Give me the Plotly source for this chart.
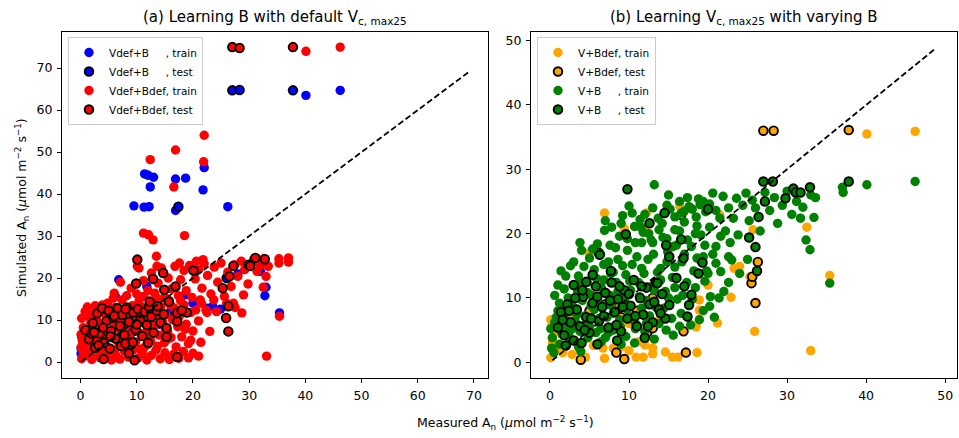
import plotly.graph_objects as go

# ---------------- data (measured, simulated) ----------------
# Panel (a): Learning B with default Vc,max25
vdefb_train = [  # blue, train
    (0.1, 2.0), (0.1, 3.2), (0.2, 6.0), (1.0, 5.0), (1.8, 2.6), (2.5, 4.2), (4.0, 5.5), (3.0, 9.0),
    (5.5, 7.0), (7.5, 6.0), (6.2, 15.6), (6.8, 19.6), (9.8, 7.3), (11.8, 18.0), (18.6, 16.0),
    (22.5, 12.8), (23.5, 13.3), (24.9, 12.6), (32.0, 21.6), (32.8, 15.8), (33.0, 17.8), (35.4, 11.7),
    (9.5, 37.2), (11.3, 36.9), (12.2, 37.0), (16.9, 36.1), (26.2, 37.0), (11.4, 44.8), (12.0, 44.5),
    (13.0, 44.0), (12.4, 41.7), (16.9, 43.6), (18.7, 43.8), (21.8, 41.0), (22.0, 46.3),
    (40.1, 63.5), (46.2, 64.7), (14.0, 9.0), (16.0, 12.0), (20.0, 14.0), (28.0, 21.0),
]
vdefb_test = [  # blue, test
    (27.0, 64.7), (28.3, 64.8), (37.8, 64.7), (17.4, 37.0), (3.0, 8.0), (6.0, 9.5), (9.0, 7.0),
    (12.0, 10.0), (26.0, 20.0), (30.0, 23.0),
]
vdefbdef_train = [  # red, train
    # bottom row
    (0.2, 0.8), (0.5, 2.1), (1.2, 1.5), (2.0, 0.6), (2.8, 2.4), (3.5, 1.0), (4.6, 2.0), (5.5, 0.5),
    (6.2, 1.8), (7.0, 0.7), (7.8, 2.6), (8.5, 1.2), (9.3, 2.9), (10.2, 0.9), (11.0, 2.0), (11.8, 0.5),
    (12.6, 1.6), (13.4, 2.8), (14.2, 0.8), (15.0, 2.2), (15.8, 0.6), (16.6, 1.9), (17.5, 0.9),
    (18.3, 2.5), (19.2, 1.0), (20.0, 2.1), (21.0, 1.4), (33.1, 1.4),
    # left edge
    (0.1, 3.5), (0.3, 5.2), (0.1, 6.6), (0.5, 8.2), (0.2, 10.4), (1.2, 13.1), (0.8, 12.0), (0.4, 4.4),
    # dense cluster
    (1.0, 4.0), (1.5, 6.5), (1.8, 9.5), (2.2, 11.5), (2.5, 3.4), (2.8, 7.8), (3.0, 12.8), (3.3, 5.5),
    (3.6, 9.0), (3.9, 13.6), (4.2, 4.2), (4.4, 7.0), (4.7, 10.8), (5.0, 12.5), (5.3, 3.2), (5.6, 5.8),
    (5.9, 8.6), (6.2, 13.0), (6.5, 11.0), (6.8, 4.5), (7.1, 7.5), (7.4, 14.8), (7.7, 9.8), (8.0, 12.2),
    (8.3, 3.6), (8.6, 6.2), (8.9, 10.5), (9.2, 13.4), (9.5, 8.0), (9.8, 4.8), (10.1, 11.8), (10.4, 14.5),
    (10.7, 6.8), (11.0, 9.4), (11.3, 3.4), (11.6, 12.8), (11.9, 7.6), (12.2, 10.2), (12.5, 5.0),
    (12.8, 14.0), (13.1, 8.8), (13.4, 11.6), (13.7, 3.8), (14.0, 6.4), (14.3, 13.2), (14.6, 9.6),
    (14.9, 4.6), (15.2, 11.2), (15.5, 7.2), (15.8, 14.6), (16.1, 5.8), (16.4, 10.0), (16.7, 12.8),
    (17.0, 3.6), (17.3, 8.4), (17.6, 11.0), (18.0, 6.0), (18.4, 13.6), (18.8, 9.0), (19.2, 4.4),
    (19.6, 11.8), (20.0, 7.4), (20.5, 12.4), (21.0, 9.8), (21.5, 14.0), (22.3, 12.4), (23.0, 7.3),
    (21.4, 4.7), (19.6, 5.2), (2.0, 2.8), (3.0, 9.8), (4.0, 11.8), (5.0, 6.8), (6.0, 2.8), (7.0, 12.0),
    (8.0, 8.4), (9.0, 5.2), (10.0, 7.6), (11.0, 13.0), (12.0, 4.2), (13.0, 12.4), (14.0, 10.8),
    (15.0, 8.2), (16.0, 13.6), (2.4, 5.0), (3.6, 3.0), (4.8, 14.0), (6.6, 9.2), (7.6, 5.4), (9.4, 11.6),
    (10.6, 3.0), (12.4, 6.4), (13.8, 15.0), (15.4, 5.4), (17.8, 14.6), (18.6, 7.8), (1.4, 11.0),
    (2.6, 13.4), (5.8, 15.2),
    # middle band
    (6.0, 16.4), (7.1, 19.0), (8.2, 15.8), (9.0, 17.6), (10.0, 16.2), (10.1, 22.8), (10.4, 22.4),
    (11.2, 19.4), (11.2, 15.6), (12.0, 17.0), (12.6, 21.2), (13.2, 16.4), (13.5, 25.2), (13.6, 22.8),
    (13.8, 18.8), (14.4, 22.4), (15.0, 15.4), (15.6, 20.0), (16.2, 17.4), (16.8, 22.8), (17.4, 15.8),
    (17.8, 19.6), (17.6, 23.6), (18.4, 21.8), (18.8, 17.0), (19.4, 23.0), (19.8, 15.4), (20.4, 19.8),
    (20.6, 24.0), (21.0, 22.0), (21.6, 17.6), (21.8, 24.4), (22.0, 23.4), (22.6, 20.6), (23.2, 16.2),
    (23.8, 22.6), (24.4, 19.0), (25.0, 23.6), (25.6, 15.6), (26.2, 21.4), (26.8, 18.0), (27.4, 23.2),
    (28.0, 20.4), (28.6, 24.0), (29.2, 22.0), (29.8, 18.6), (30.4, 23.4), (30.8, 24.4), (31.4, 21.6),
    (32.0, 23.0), (32.6, 24.6), (33.0, 20.4), (32.5, 17.8), (33.4, 22.8), (35.3, 24.6), (35.3, 23.6),
    (37.0, 24.8), (37.0, 23.8), (35.4, 10.9), (24.2, 12.0), (26.0, 14.0), (27.5, 13.0), (29.0, 16.0),
    (21.3, 14.8), (23.7, 14.8), (22.5, 11.8), (27.2, 14.0), (28.7, 11.7),
    # upper outliers
    (11.2, 30.7), (12.1, 30.3), (12.9, 29.1), (18.5, 30.1), (12.4, 48.2), (16.9, 50.5), (22.0, 54.0),
    (21.9, 47.7), (16.6, 41.7), (40.1, 74.0), (46.2, 75.0),
]
vdefbdef_test = [  # red, test
    (0.9, 7.6), (1.5, 5.4), (2.2, 9.3), (2.6, 3.4), (3.0, 11.6), (3.4, 6.8), (3.8, 12.8), (4.2, 4.6),
    (4.6, 9.8), (5.0, 12.2), (5.4, 7.4), (5.8, 10.6), (6.2, 5.6), (6.6, 12.8), (7.0, 8.6), (7.4, 11.2),
    (7.8, 6.4), (8.2, 13.0), (8.6, 9.6), (9.0, 4.2), (9.4, 11.8), (9.8, 7.8), (10.2, 12.6), (10.6, 10.0),
    (11.0, 6.2), (11.4, 12.0), (11.8, 8.8), (12.2, 13.2), (12.6, 10.8), (13.0, 7.0), (13.6, 12.2),
    (14.2, 9.4), (14.8, 11.4), (5.2, 3.2), (7.2, 3.8), (2.0, 6.8), (4.0, 8.2), (6.0, 11.0), (8.0, 12.6),
    (10.0, 9.0), (3.2, 4.0), (12.0, 4.6), (2.4, 7.1), (5.3, 6.1), (8.0, 4.4), (9.3, 4.7),
    (4.1, 0.7), (9.6, 0.4), (17.2, 1.2), (8.6, 2.1), (15.3, 6.0), (15.3, 8.1), (17.2, 9.7), (17.2, 11.7),
    (18.9, 11.8), (18.0, 12.3), (15.7, 14.4), (13.7, 13.3), (12.3, 14.4), (10.1, 24.4), (9.9, 18.7),
    (12.9, 19.8), (14.7, 21.2), (14.9, 17.2), (16.9, 18.0), (20.1, 21.8), (26.5, 20.4), (27.2, 22.9),
    (25.3, 17.6), (29.9, 23.2), (31.1, 24.8), (32.8, 24.5), (30.2, 22.9), (26.3, 13.3), (25.9, 10.5),
    (26.3, 7.3), (27.0, 75.0), (28.3, 74.8), (37.8, 75.0),
]

# Panel (b): Learning Vc,max25 with varying B
vbdef_train = [  # orange, train
    (0.1, 0.7), (1.6, 1.5), (2.8, 1.2), (4.5, 0.8), (6.9, 0.6), (8.0, 2.2), (10.0, 1.8), (10.9, 0.8),
    (11.8, 0.8), (13.0, 1.3), (14.6, 1.6), (15.5, 0.8), (16.2, 0.8), (18.6, 1.5), (12.0, 2.7), (9.0, 2.4),
    (5.5, 2.6), (1.2, 2.4), (6.7, 2.2), (11.3, 3.2), (13.0, 2.2),
    (0.1, 6.6), (0.3, 3.0), (0.3, 3.7), (0.6, 4.8), (0.2, 5.6), (1.0, 6.0), (2.0, 5.2), (3.0, 7.0),
    (6.9, 23.2), (12.2, 23.2), (16.4, 24.3), (9.4, 20.8), (12.0, 20.6), (21.5, 22.9), (25.7, 20.6),
    (32.5, 21.0), (33.0, 1.8), (25.9, 4.8), (22.9, 10.1), (21.2, 6.1), (24.0, 14.9), (23.3, 14.6),
    (25.3, 13.3), (35.4, 13.5), (5.0, 17.0), (6.0, 17.5), (18.5, 5.5), (18.9, 6.6), (18.9, 8.1),
    (18.9, 9.7), (14.0, 7.0), (20.0, 12.0), (8.0, 9.0), (10.0, 6.0), (40.1, 35.5), (46.2, 35.9),
]
vbdef_test = [  # orange, test
    (6.2, 17.0), (3.9, 0.4), (8.4, 1.5), (9.4, 0.5), (17.2, 1.5), (16.9, 4.8), (12.3, 4.6), (13.0, 5.3),
    (26.0, 9.2), (25.5, 12.3), (25.6, 13.3), (26.3, 15.6), (16.6, 22.9), (19.1, 15.9), (27.0, 36.0),
    (28.3, 36.0), (37.8, 36.1), (1.5, 5.0), (3.0, 6.0), (5.0, 8.0), (7.0, 9.0), (9.0, 7.0), (11.0, 8.0),
    (13.0, 10.0),
]
vb_train = [  # green, train
    (0.2, 2.2), (0.3, 3.8), (0.1, 5.2), (0.5, 1.5), (0.6, 6.2), (1.0, 8.0), (1.2, 9.2), (1.5, 4.4),
    (1.8, 7.0), (2.0, 5.8), (2.3, 10.0), (2.6, 3.6), (2.9, 8.6), (3.2, 6.4), (3.5, 11.0), (3.8, 4.8),
    (4.1, 9.6), (4.4, 7.2), (4.3, 14.9), (4.7, 12.4), (5.0, 16.2), (5.0, 5.6), (5.3, 10.4), (5.6, 8.2),
    (5.9, 13.0), (6.2, 6.8), (6.5, 11.6), (6.9, 20.5), (6.8, 15.2), (7.1, 9.0), (7.4, 4.6), (7.7, 13.8),
    (8.0, 7.6), (8.3, 17.8), (8.6, 11.0), (8.9, 5.6), (9.2, 15.0), (9.5, 9.4), (9.8, 19.2), (10.0, 24.3),
    (10.1, 12.6), (10.4, 7.0), (10.7, 21.1), (10.7, 3.0), (11.0, 16.4), (11.3, 10.2), (11.6, 18.6),
    (11.9, 13.8), (12.2, 6.0), (12.5, 20.0), (12.8, 11.8), (13.2, 27.6), (13.1, 16.8), (13.4, 8.6),
    (13.7, 22.4), (14.0, 14.6), (14.3, 19.4), (14.7, 5.0), (14.6, 11.0), (14.9, 17.2), (15.2, 23.8),
    (15.5, 13.2), (15.8, 20.6), (16.1, 9.8), (16.4, 25.0), (16.7, 15.6), (17.0, 21.8), (17.3, 12.4),
    (17.6, 24.2), (17.9, 18.0), (18.2, 14.2), (18.5, 22.6), (18.8, 25.4), (18.9, 6.6), (19.1, 19.8),
    (19.4, 16.4), (19.7, 23.4), (20.2, 8.7), (20.3, 10.2), (20.6, 26.3), (20.2, 21.0), (21.0, 18.0),
    (21.5, 22.4), (21.9, 25.8), (22.2, 20.4), (22.6, 16.4), (23.0, 15.9), (23.6, 25.5), (23.8, 19.8),
    (24.0, 13.8), (21.6, 14.1), (24.8, 26.3), (25.2, 22.0), (26.0, 24.0), (26.6, 20.4), (27.2, 26.4),
    (27.8, 23.6), (28.4, 25.6), (28.8, 21.6), (29.4, 24.4), (30.0, 26.6), (30.6, 23.0), (31.2, 25.0),
    (31.7, 22.4), (32.0, 24.1), (32.4, 19.0), (32.9, 17.5), (33.4, 22.5), (33.0, 26.0), (33.6, 25.6),
    (37.0, 27.2), (37.1, 26.4), (35.4, 12.3), (40.1, 27.6), (46.2, 28.1), (3.9, 1.7), (22.0, 11.0),
    (25.0, 16.0), (1.0, 12.0), (2.0, 13.4), (3.0, 15.6), (4.0, 17.4), (6.0, 18.4), (7.0, 22.0),
    (8.0, 14.0), (9.0, 21.6), (12.0, 23.0), (15.0, 26.0), (16.0, 18.2), (18.0, 9.8), (20.0, 13.8),
    (6.5, 3.2), (9.0, 2.8), (11.5, 21.0), (12.8, 19.0), (17.0, 23.5), (19.0, 24.5),
    # extra density in the main cloud
    (1.2, 2.8), (2.4, 4.6), (3.6, 2.4), (4.8, 3.8), (5.8, 4.6), (7.0, 3.8), (8.0, 5.0), (9.6, 4.0),
    (10.8, 5.2), (12.0, 4.8), (13.2, 3.6), (15.6, 4.2), (16.4, 5.6),
    (0.8, 7.0), (1.6, 8.6), (2.8, 5.2), (3.4, 7.4), (4.6, 6.0), (5.2, 8.8), (6.4, 5.2), (7.2, 7.0),
    (7.8, 8.8), (8.8, 6.6), (9.8, 8.2), (10.8, 6.0), (11.6, 8.4), (12.6, 7.2), (13.8, 6.0), (14.4, 8.4),
    (15.4, 6.8), (16.6, 7.6), (17.8, 5.8), (19.4, 8.0), (20.8, 7.0),
    (0.6, 10.4), (1.8, 11.4), (2.6, 9.6), (3.8, 12.6), (4.8, 10.8), (6.0, 9.8), (6.8, 12.8), (7.6, 10.4),
    (8.4, 12.4), (9.2, 10.6), (10.2, 11.2), (11.2, 12.4), (12.2, 9.6), (13.2, 11.2), (14.0, 12.8),
    (15.0, 10.0), (15.8, 11.6), (16.8, 10.4), (18.4, 11.6), (19.6, 12.6), (21.4, 10.0), (22.6, 12.4),
    (1.4, 14.2), (2.6, 15.0), (3.6, 13.4), (5.6, 14.4), (6.4, 16.8), (7.4, 15.6), (8.6, 16.0),
    (9.6, 13.6), (10.4, 15.2), (11.6, 14.6), (12.4, 16.0), (13.6, 14.0), (14.8, 15.6), (15.8, 14.8),
    (17.0, 16.8), (18.6, 16.2), (19.8, 14.2), (21.0, 15.4), (20.6, 16.8),
    (3.8, 18.6), (5.4, 17.6), (7.6, 18.2), (8.8, 19.6), (9.8, 17.4), (10.8, 18.6), (11.8, 20.2),
    (13.0, 18.6), (13.8, 20.6), (14.8, 19.2), (15.6, 18.0), (16.4, 20.4), (17.4, 19.0), (18.4, 20.0),
    (19.6, 18.2), (21.6, 19.6), (22.8, 18.6),
    (7.8, 21.0), (9.2, 22.8), (10.4, 23.2), (11.4, 22.2), (13.0, 24.0), (14.2, 21.6), (14.8, 24.4),
    (15.8, 22.6), (16.6, 23.2), (17.4, 25.6), (18.0, 23.8), (18.6, 21.2), (19.4, 25.0), (20.2, 24.6),
    (21.0, 23.6), (22.6, 24.0), (23.2, 22.4), (24.4, 24.4), (25.6, 25.2),
]
vb_test = [  # green, test
    (1.0, 5.4), (1.4, 7.8), (1.8, 4.2), (2.2, 9.0), (2.6, 6.2), (3.0, 3.4), (3.4, 8.2), (3.8, 5.6),
    (4.2, 10.2), (4.6, 7.0), (5.0, 4.6), (5.4, 9.2), (5.8, 11.8), (6.2, 6.4), (6.6, 8.6), (7.0, 10.8),
    (7.4, 5.4), (7.8, 12.4), (8.2, 7.8), (8.6, 9.8), (9.0, 4.8), (9.4, 11.2), (9.8, 6.8), (10.2, 8.8),
    (10.6, 12.8), (11.0, 5.6), (11.4, 10.0), (11.8, 7.4), (12.2, 11.6), (12.6, 9.0), (13.0, 6.2),
    (13.4, 12.4), (13.8, 8.2), (14.2, 10.6), (14.6, 6.8), (2.0, 2.6), (4.0, 3.0), (6.0, 2.8), (8.5, 3.4),
    (12.0, 3.8), (9.8, 26.9), (14.5, 23.2), (12.6, 21.6), (9.6, 19.9), (16.6, 19.1), (14.7, 18.2),
    (15.1, 16.4), (16.9, 16.2), (19.3, 15.5), (18.8, 13.8), (20.0, 23.8), (26.4, 22.6), (27.2, 25.0),
    (27.0, 28.1), (28.2, 28.1), (29.8, 25.5), (30.8, 27.0), (31.1, 26.4), (31.7, 26.4), (32.9, 27.2),
    (25.2, 19.4), (26.0, 17.9), (26.2, 14.2), (6.3, 16.7), (7.7, 14.2), (5.4, 13.6), (4.6, 12.5),
    (4.1, 11.2), (17.0, 11.8), (17.9, 10.5), (17.6, 8.9), (17.4, 7.1), (16.0, 13.1), (13.6, 12.3),
    (15.1, 8.9), (37.8, 28.1),
    (1.6, 6.6), (2.4, 8.0), (3.2, 10.0), (4.4, 5.0), (5.2, 6.8), (6.0, 10.2), (6.8, 7.2), (7.6, 9.6),
    (8.4, 5.8), (9.2, 8.6), (10.0, 10.6), (10.8, 7.2), (11.6, 11.8), (12.4, 5.6), (13.2, 9.4),
    (14.0, 7.6), (8.8, 11.8), (3.0, 12.0),
]

# 1:1 reference lines
line_a = [0.1, 69.0]
line_b = [0.3, 48.8]

# tick values
ticks_a = [0, 10, 20, 30, 40, 50, 60, 70]
ticks_b = [0, 10, 20, 30, 40, 50]

# ---------------- figure ----------------
FONT = "DejaVu Sans"
fig = go.Figure()


def add(pts, color, name, edge, xa, ya, legend):
    fig.add_trace(go.Scatter(
        x=[p[0] for p in pts], y=[p[1] for p in pts], mode="markers", name=name,
        marker=dict(color=color, size=8.6 if edge else 9.4,
                    line=dict(color="black", width=1.9 if edge else 0)),
        xaxis=xa, yaxis=ya, legend=legend))


sp = "\u00a0" * 5
add(vdefb_train, "#0000ff", "Vdef+B" + sp + ", train", False, "x", "y", "legend")
add(vdefb_test, "#0000ff", "Vdef+B" + sp + ", test", True, "x", "y", "legend")
add(vdefbdef_train, "#ff0000", "Vdef+Bdef, train", False, "x", "y", "legend")
add(vdefbdef_test, "#ff0000", "Vdef+Bdef, test", True, "x", "y", "legend")
fig.add_trace(go.Scatter(x=line_a, y=line_a, mode="lines", showlegend=False,
                         line=dict(color="black", width=1.8, dash="6px,3px"), xaxis="x", yaxis="y"))

add(vbdef_train, "#ffa500", "V+Bdef, train", False, "x2", "y2", "legend2")
add(vbdef_test, "#ffa500", "V+Bdef, test", True, "x2", "y2", "legend2")
add(vb_train, "#008000", "V+B" + sp + ", train", False, "x2", "y2", "legend2")
add(vb_test, "#008000", "V+B" + sp + ", test", True, "x2", "y2", "legend2")
fig.add_trace(go.Scatter(x=line_b, y=line_b, mode="lines", showlegend=False,
                         line=dict(color="black", width=1.8, dash="6px,3px"), xaxis="x2", yaxis="y2"))

W, H = 959, 438
ax = dict(showline=True, linecolor="black", linewidth=1, mirror=True, ticks="outside",
          ticklen=4, tickwidth=1, tickcolor="black", showgrid=False, zeroline=False,
          tickfont=dict(family=FONT, size=12.5, color="black"), ticklabelstandoff=2)
ydom = [1 - 378 / H, 1 - 32 / H]

fig.update_layout(
    width=W, height=H, margin=dict(l=0, r=0, t=0, b=0),
    paper_bgcolor="white", plot_bgcolor="white",
    font=dict(family=FONT, color="black"),
    xaxis=dict(ax, domain=[62 / W, 488 / W], range=[-3.3, 72.5], tickvals=ticks_a, anchor="y"),
    yaxis=dict(ax, domain=ydom, range=[-3.8, 78.6], tickvals=ticks_a, anchor="x"),
    xaxis2=dict(ax, domain=[531 / W, 957 / W], range=[-2.4, 51.5], tickvals=ticks_b, anchor="y2"),
    yaxis2=dict(ax, domain=ydom, range=[-2.45, 51.35], tickvals=ticks_b, anchor="x2"),
    legend=dict(x=68 / W, y=1 - 37 / H, xanchor="left", yanchor="top",
                bgcolor="rgba(255,255,255,0.8)", bordercolor="#cccccc", borderwidth=1,
                font=dict(family=FONT, size=10.5, color="black"), itemwidth=30,
                tracegroupgap=0),
    legend2=dict(x=537 / W, y=1 - 37 / H, xanchor="left", yanchor="top",
                 bgcolor="rgba(255,255,255,0.8)", bordercolor="#cccccc", borderwidth=1,
                 font=dict(family=FONT, size=10.5, color="black"), itemwidth=30,
                 tracegroupgap=0),
    annotations=[
        dict(text="(a) Learning B with default V<sub>c, max25</sub>", x=275 / W, y=1 - 29 / H,
             xref="paper", yref="paper", xanchor="center", yanchor="bottom", showarrow=False,
             font=dict(family=FONT, size=15, color="black")),
        dict(text="(b) Learning V<sub>c, max25</sub> with varying B", x=744 / W, y=1 - 29 / H,
             xref="paper", yref="paper", xanchor="center", yanchor="bottom", showarrow=False,
             font=dict(family=FONT, size=15, color="black")),
        dict(text="Measured A<sub>n</sub> (<i>μ</i>mol m<sup>−2</sup> s<sup>−1</sup>)",
             x=505 / W, y=1 - 423 / H, xref="paper", yref="paper", xanchor="center",
             yanchor="middle", showarrow=False, font=dict(family=FONT, size=12.5, color="black")),
        dict(text="Simulated A<sub>n</sub> (<i>μ</i>mol m<sup>−2</sup> s<sup>−1</sup>)",
             x=22 / W, y=1 - 208 / H, xref="paper", yref="paper", xanchor="center",
             yanchor="middle", textangle=-90, showarrow=False,
             font=dict(family=FONT, size=12.5, color="black")),
    ],
)

fig.write_html("out.html")
